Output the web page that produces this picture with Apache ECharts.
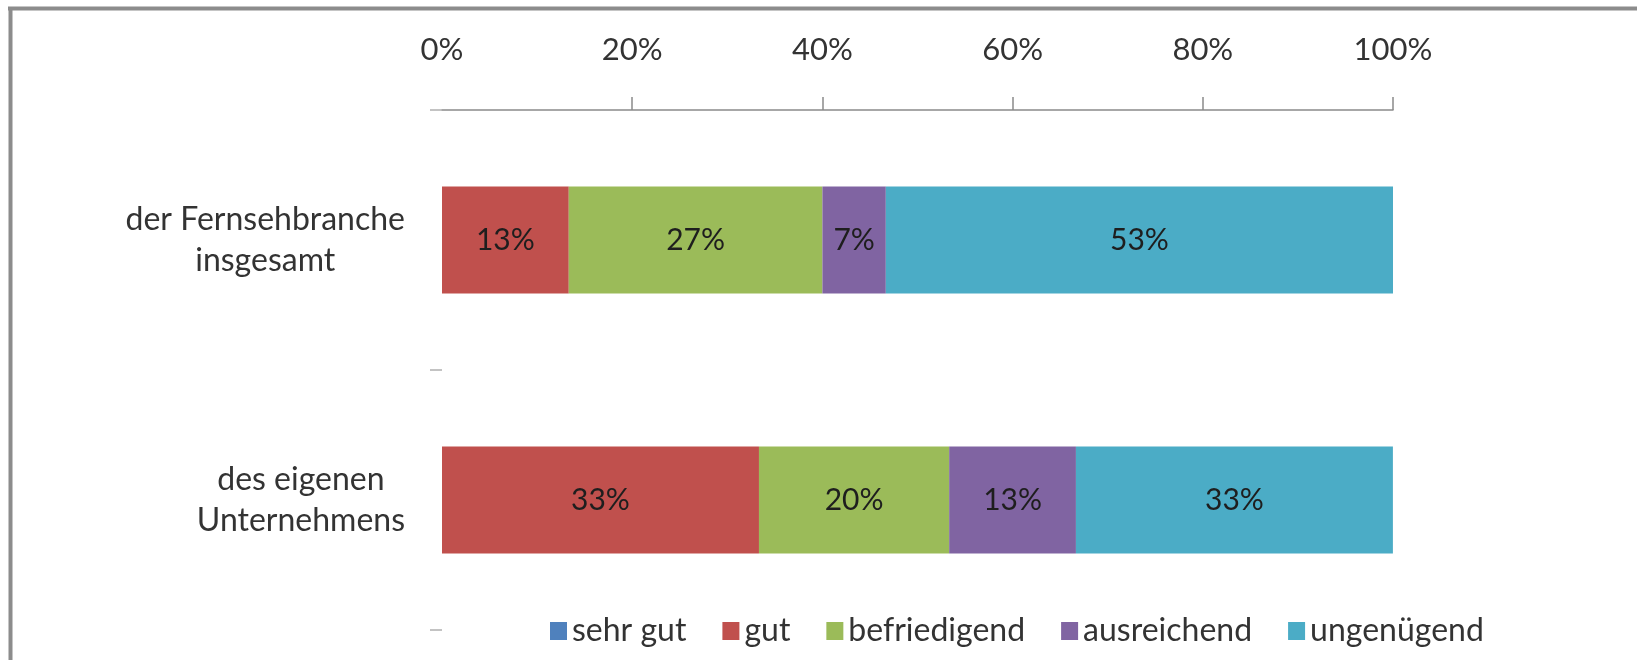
<!DOCTYPE html>
<html>
<head>
<meta charset="utf-8">
<script src="https://cdn.jsdelivr.net/npm/echarts@6/dist/echarts.min.js"></script>
<style>
html,body{margin:0;padding:0;background:#fff;}
#chart{width:1637px;height:660px;}
</style>
</head>
<body>
<div id="chart"></div>
<script>
// Data (percent of respondents)
const categories = ['der Fernsehbranche\ninsgesamt', 'des eigenen\nUnternehmens'];
const seriesNames = ['sehr gut', 'gut', 'befriedigend', 'ausreichend', 'ungenügend'];
const sehrGut     = [0, 0];
const gut         = [13.33, 33.33];
const befriedigend= [26.67, 20.00];
const ausreichend = [6.67, 13.33];
const ungenuegend = [53.33, 33.33];
const xTicks = [0, 20, 40, 60, 80, 100];

const colors = ['#4F81BD', '#C0504D', '#9BBB59', '#8064A2', '#4BACC6'];
const seriesData = [sehrGut, gut, befriedigend, ausreichend, ungenuegend];
const FONT = 'Lato';

const chart = echarts.init(document.getElementById('chart'), null, {renderer: 'canvas'});

const series = seriesNames.map((name, i) => ({
  name: name,
  type: 'bar',
  stack: 'total',
  barWidth: 107,
  data: seriesData[i],
  itemStyle: {color: colors[i]},
  label: {
    show: true,
    position: 'inside',
    color: '#1e1e1e',
    fontFamily: FONT,
    fontSize: 30,
    formatter: p => (p.value > 0 ? Math.round(p.value) + '%' : '')
  },
  emphasis: {disabled: true}
}));

chart.setOption({
  animation: false,
  backgroundColor: '#fff',
  textStyle: {fontFamily: FONT},
  grid: {left: 442, right: 244, top: 110, bottom: 30, containLabel: false},
  xAxis: {
    type: 'value',
    position: 'top',
    min: xTicks[0],
    max: xTicks[xTicks.length - 1],
    interval: 20,
    axisLine: {show: true, lineStyle: {color: '#8a8a8a', width: 1.5}},
    axisTick: {show: true, length: 13, customValues: xTicks.slice(1), lineStyle: {color: '#8a8a8a', width: 1.5}},
    splitLine: {show: false},
    axisLabel: {
      formatter: '{value}%',
      color: '#333',
      fontFamily: FONT,
      fontSize: 31,
      lineHeight: 31,
      margin: 45
    }
  },
  yAxis: {
    type: 'category',
    inverse: true,
    data: categories,
    axisLine: {show: false},
    axisTick: {show: true, length: 12, lineStyle: {color: '#b0b0b0', width: 1.5}},
    axisLabel: {
      margin: 37,
      color: '#333',
      fontFamily: FONT,
      fontSize: 32,
      lineHeight: 41,
      formatter: v => v.split('\n').map(s => '{c|' + s + '}').join('\n'),
      rich: {c: {align: 'center', fontFamily: FONT, fontSize: 32, lineHeight: 41, color: '#333'}}
    }
  },
  legend: {
    data: seriesNames,
    left: 545,
    top: 610,
    orient: 'horizontal',
    icon: 'rect',
    itemWidth: 17,
    itemHeight: 18,
    itemGap: 36,
    selectedMode: false,
    textStyle: {color: '#333', fontFamily: FONT, fontSize: 32, lineHeight: 32}
  },
  graphic: [
    {type: 'line', shape: {x1: 8, y1: 8.5, x2: 1637, y2: 8.5}, style: {stroke: '#8c8c8c', lineWidth: 4}, silent: true},
    {type: 'line', shape: {x1: 10.5, y1: 7, x2: 10.5, y2: 660}, style: {stroke: '#8c8c8c', lineWidth: 4}, silent: true}
  ],
  series: series
});
</script>
</body>
</html>
